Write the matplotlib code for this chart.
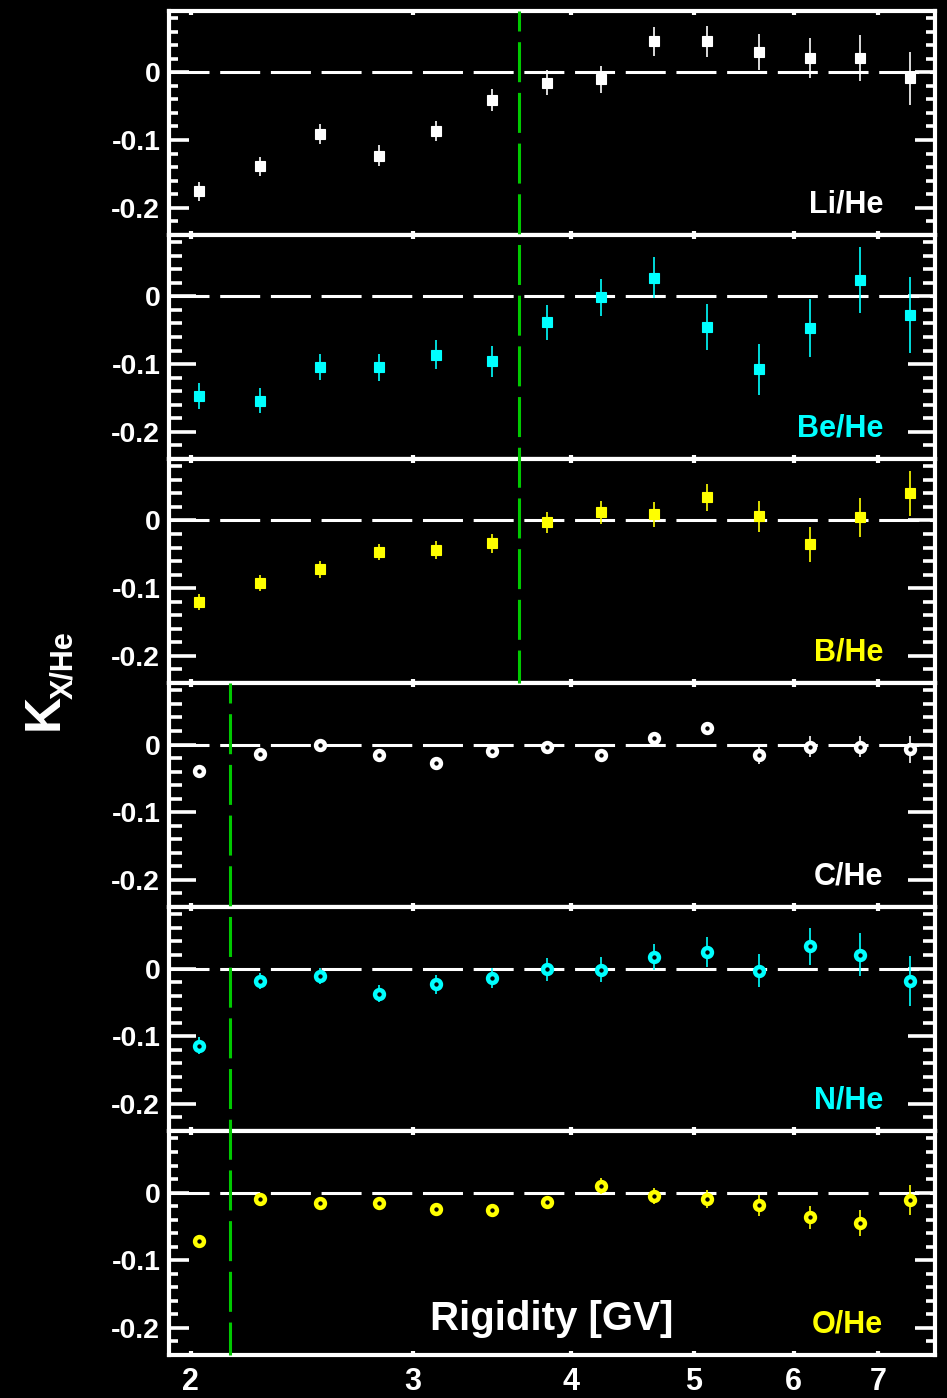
import matplotlib
matplotlib.use("Agg")
import matplotlib.pyplot as plt
from matplotlib.lines import Line2D
from matplotlib.ticker import FixedLocator, FixedFormatter, MultipleLocator, NullLocator
from matplotlib import transforms

plt.rcParams["font.family"] = ["Liberation Sans", "DejaVu Sans"]
plt.rcParams["font.weight"] = "bold"
plt.rcParams["lines.scale_dashes"] = False

# rigidity bin centres [GV]
rigidity = [2.03, 2.27, 2.53, 2.82, 3.13, 3.46, 3.83, 4.22, 4.65, 5.12, 5.63, 6.18, 6.77, 7.42]

li_he = [-0.176, -0.139, -0.091, -0.123, -0.087, -0.041, -0.015, -0.010, 0.046, 0.046, 0.030, 0.021, 0.022, -0.009]
li_he_err = [0.014, 0.014, 0.0145, 0.015, 0.015, 0.016, 0.018, 0.020, 0.021, 0.023, 0.027, 0.030, 0.034, 0.039]

be_he = [-0.147, -0.154, -0.104, -0.105, -0.086, -0.096, -0.0385, -0.0015, 0.028, -0.0445, -0.108, -0.047, 0.024, -0.027]
be_he_err = [0.019, 0.019, 0.0195, 0.020, 0.0215, 0.023, 0.026, 0.028, 0.030, 0.034, 0.038, 0.0425, 0.049, 0.056]

b_he = [-0.121, -0.092, -0.0725, -0.047, -0.044, -0.034, -0.003, 0.012, 0.009, 0.034, 0.006, -0.035, 0.0046, 0.040]
b_he_err = [0.012, 0.012, 0.012, 0.012, 0.013, 0.014, 0.015, 0.017, 0.0185, 0.020, 0.023, 0.026, 0.029, 0.033]

c_he = [-0.0385, -0.0143, -0.0004, -0.0148, -0.0267, -0.0099, -0.0034, -0.016, 0.0095, 0.024, -0.016, -0.003, -0.003, -0.007]
c_he_err = [0.005, 0.005, 0.005, 0.005, 0.006, 0.006, 0.007, 0.008, 0.009, 0.010, 0.013, 0.015, 0.016, 0.020]

n_he = [-0.114, -0.019, -0.011, -0.037, -0.023, -0.014, -0.001, -0.002, 0.017, 0.025, -0.003, 0.0326, 0.0207, -0.019]
n_he_err = [0.012, 0.012, 0.012, 0.013, 0.014, 0.015, 0.017, 0.0185, 0.019, 0.022, 0.025, 0.028, 0.032, 0.037]

o_he = [-0.0719, -0.0092, -0.0156, -0.0151, -0.0249, -0.0259, -0.0141, 0.0096, -0.0052, -0.0096, -0.019, -0.0367, -0.0452, -0.0111]
o_he_err = [0.005, 0.005, 0.005, 0.005, 0.006, 0.006, 0.007, 0.0116, 0.012, 0.013, 0.015, 0.017, 0.019, 0.022]

labels = ["Li/He", "Be/He", "B/He", "C/He", "N/He", "O/He"]
values = [li_he, be_he, b_he, c_he, n_he, o_he]
errors = [li_he_err, be_he_err, b_he_err, c_he_err, n_he_err, o_he_err]
colors = ["#ffffff", "#00ffff", "#ffff00", "#ffffff", "#00ffff", "#ffff00"]
markers = ["s", "s", "s", "o", "o", "o"]

# bin edges marked by the green dashed lines
cut_upper = 3.64
cut_lower = 2.15

x_ticks = [2, 3, 4, 5, 6, 7]
y_ticks = [-0.2, -0.1, 0.0]
y_tick_labels = ["-0.2", "-0.1", "0"]

XLIM = (1.922, 7.76)
YLIM = (-0.241, 0.0904)

W, H = 947, 1398
fig = plt.figure(figsize=(W / 100, H / 100), dpi=100, facecolor="black")

left_px, right_px = 168.7, 935.0
top_px, panel_px = 11.3, 224.03
dash = (0, (28.8, 7.7))

axes = []
for i in range(6):
    bottom = 1 - (top_px + (i + 1) * panel_px) / H
    ax = fig.add_axes([left_px / W, bottom, (right_px - left_px) / W, panel_px / H])
    ax.set_facecolor("black")
    ax.set_xscale("log")
    ax.set_xlim(*XLIM)
    ax.set_ylim(*YLIM)

    for sp in ax.spines.values():
        sp.set_color("white")
        sp.set_linewidth(3)

    ax.axhline(0, color="white", lw=2.2, linestyle=dash, zorder=1)

    if markers[i] == "s":
        ax.errorbar(rigidity, values[i], yerr=errors[i], fmt="s", color=colors[i],
                    ms=7.4, mew=0.8, mec=colors[i], elinewidth=1.2, capsize=0, zorder=3)
    else:
        ax.errorbar(rigidity, values[i], yerr=errors[i], fmt="o", color=colors[i],
                    ms=6.4, mew=3.2, mec=colors[i], mfc="black", elinewidth=1.2,
                    capsize=0, zorder=3)

    ax.text(0.932, 0.102, labels[i], transform=ax.transAxes, ha="right", va="baseline",
            color=colors[i], fontsize=22, fontweight="bold")

    # outer pads are taller in the original, so their ticks are shorter
    if i in (0, 5):
        maj_len, min_len = 14.4, 6.5
    else:
        maj_len, min_len = 19.4, 9.0

    ax.yaxis.set_major_locator(FixedLocator(y_ticks))
    ax.yaxis.set_major_formatter(FixedFormatter(y_tick_labels))
    ax.yaxis.set_minor_locator(MultipleLocator(0.02))
    ax.tick_params(axis="y", which="major", direction="in", left=True, right=True,
                   length=maj_len, width=2.6, color="white", labelcolor="white",
                   labelsize=20.5, pad=6)
    ax.tick_params(axis="y", which="minor", direction="in", left=True, right=True,
                   length=min_len, width=2.6, color="white")

    ax.xaxis.set_major_locator(FixedLocator(x_ticks))
    ax.xaxis.set_minor_locator(NullLocator())
    ax.xaxis.set_major_formatter(FixedFormatter([str(t) for t in x_ticks]))
    ax.tick_params(axis="x", which="major", direction="in", top=True, bottom=True,
                   length=3, width=3, color="white", labelcolor="white",
                   labelsize=22, pad=8, labelbottom=(i == 5))
    for lab in ax.get_xticklabels() + ax.get_yticklabels():
        lab.set_fontweight("bold")
    axes.append(ax)

# green dashed lines spanning several panels
for x_cut, first, last in [(cut_upper, 0, 2), (cut_lower, 3, 5)]:
    y_top = 1 - (top_px + first * panel_px) / H
    y_bot = 1 - (top_px + (last + 1) * panel_px) / H
    trans = transforms.blended_transform_factory(axes[0].transData, fig.transFigure)
    fig.add_artist(Line2D([x_cut, x_cut], [y_top, y_bot], transform=trans,
                          color="#00c800", lw=2.2, linestyle=(14.4, (28.8, 7.7)), zorder=5))

fig.text(673 / W, 1 - 1330 / H, "Rigidity [GV]", ha="right", va="baseline",
         color="white", fontsize=29, fontweight="bold")

fig.text(58 / W, 1 - 730 / H, "K", rotation=90, rotation_mode="anchor",
         ha="left", va="baseline", color="white", fontsize=36, fontweight="bold")
fig.text(72 / W, 1 - 699 / H, "X/He", rotation=90, rotation_mode="anchor",
         ha="left", va="baseline", color="white", fontsize=22, fontweight="bold")

fig.savefig("out.png", dpi=100, facecolor="black")
